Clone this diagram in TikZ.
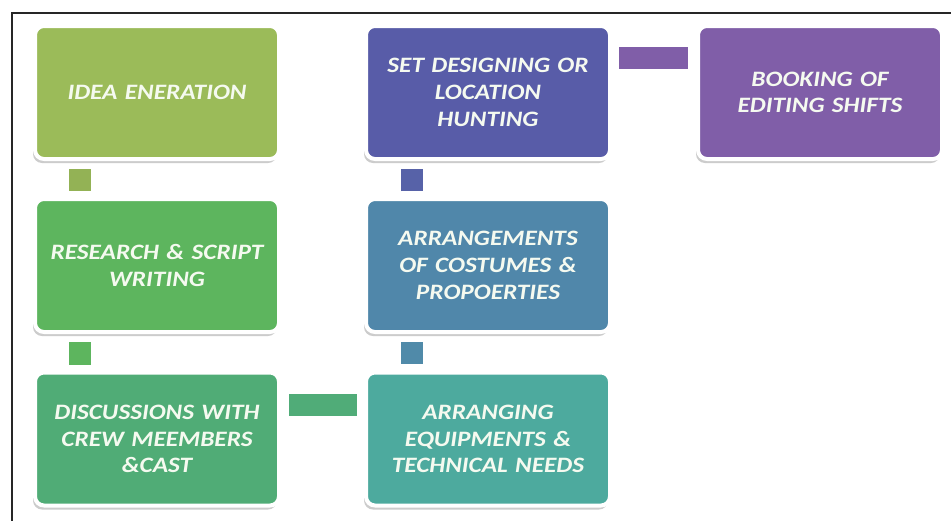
\documentclass[tikz,border=0pt]{standalone}
\usepackage{fontspec}
\setmainfont{Carlito}[FakeStretch=1.15,WordSpace=0.8]
\usetikzlibrary{shadows}

\definecolor{cIdea}{RGB}{155,187,89}
\definecolor{cResearch}{RGB}{93,181,94}
\definecolor{cDiscuss}{RGB}{80,172,118}
\definecolor{cEquip}{RGB}{77,170,158}
\definecolor{cCostume}{RGB}{80,135,170}
\definecolor{cSet}{RGB}{88,92,168}
\definecolor{cBook}{RGB}{128,94,168}
\definecolor{cText}{RGB}{245,250,240}

\tikzset{
  stepbox/.style={draw=white, line width=4pt, rounded corners=9pt,
    minimum width=244pt, minimum height=133pt, inner sep=0pt,
    text width=236pt, align=center, text=cText,
    font=\fontsize{22}{26.7}\selectfont\bfseries\itshape,
    drop shadow={shadow xshift=-2pt, shadow yshift=-4pt, opacity=0.4, fill=black!50}},
  link/.style={line width=22pt}
}

\begin{document}
\begin{tikzpicture}[x=1pt,y=-1pt]
  \useasboundingbox (0,0) rectangle (951,520);
  \fill[white] (0,0) rectangle (951,520);

  % frame
  \draw[line width=2pt, black!85] (12,521) -- (12,13) -- (952,13);

  % process steps
  \node[stepbox, fill=cIdea]     (idea)     at (157,92.5)  {IDEA ENERATION};
  \node[stepbox, fill=cResearch] (research) at (157,265.5) {RESEARCH \& SCRIPT\\WRITING};
  \node[stepbox, fill=cDiscuss]  (discuss)  at (157,439)   {DISCUSSIONS WITH\\CREW MEEMBERS\\\&CAST};
  \node[stepbox, fill=cEquip]    (equip)    at (488,439)   {ARRANGING\\EQUIPMENTS \&\\TECHNICAL NEEDS};
  \node[stepbox, fill=cCostume]  (costume)  at (488,265.5) {ARRANGEMENTS\\OF COSTUMES \&\\PROPOERTIES};
  \node[stepbox, fill=cSet]      (set)      at (488,92.5)  {SET DESIGNING OR\\LOCATION\\HUNTING};
  \node[stepbox, fill=cBook]     (book)     at (820,92.5)  {BOOKING OF\\EDITING SHIFTS};

  % connectors between steps
  \draw[link, cIdea!95!black]
    ([xshift=47pt,yshift=-8pt]idea.south west) -- ([xshift=47pt,yshift=6pt]research.north west);
  \draw[link, cResearch]
    ([xshift=47pt,yshift=-8pt]research.south west) -- ([xshift=47pt,yshift=6pt]discuss.north west);
  \draw[link, cDiscuss!95!cEquip]
    ([xshift=8pt,yshift=34pt]discuss.east) -- ([xshift=-7pt,yshift=34pt]equip.west);
  \draw[link, cCostume!90!cEquip]
    ([xshift=48pt,yshift=7pt]equip.north west) -- ([xshift=48pt,yshift=-8pt]costume.south west);
  \draw[link, cSet!85!cCostume]
    ([xshift=48pt,yshift=6pt]costume.north west) -- ([xshift=48pt,yshift=-8pt]set.south west);
  \draw[link, cBook]
    ([xshift=7pt,yshift=34.5pt]set.east) -- ([xshift=-8pt,yshift=34.5pt]book.west);
\end{tikzpicture}
\end{document}
